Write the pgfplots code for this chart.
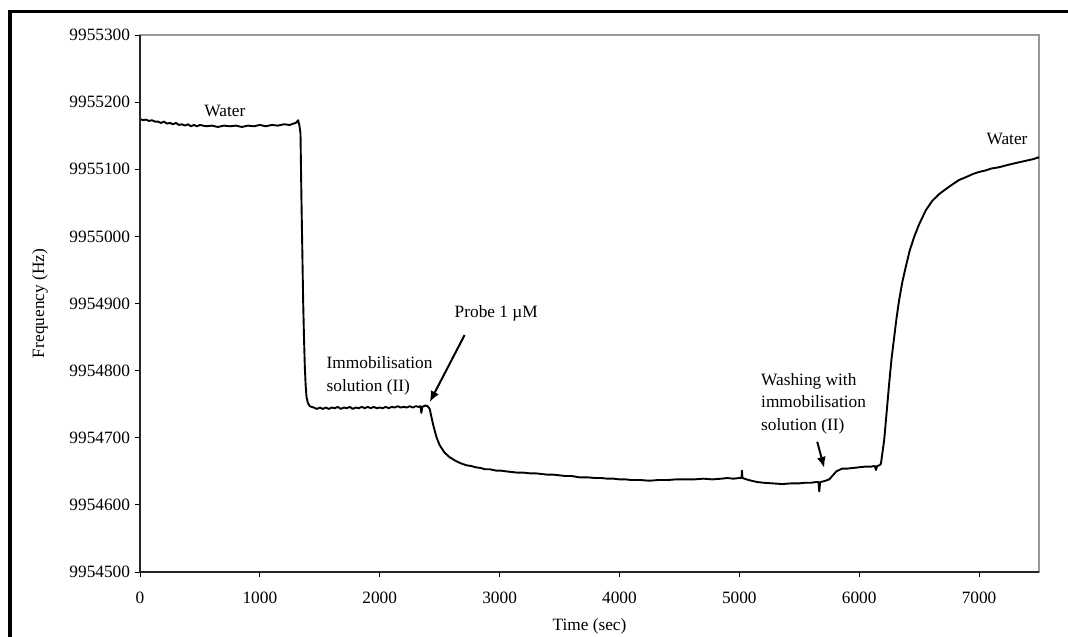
\documentclass[border=0pt]{standalone}
\usepackage{fontspec}
\setmainfont{Liberation Serif}
\usepackage{pgfplots}
\pgfplotsset{compat=1.18}
\usetikzlibrary{arrows.meta}
\begin{document}
\fontsize{17.3}{22.4}\selectfont
\begin{tikzpicture}
\path[use as bounding box] (0,0) rectangle (1068pt,637pt);
\draw[line width=3.3pt] (10pt,0) -- (10pt,625.3pt) -- (1070pt,625.3pt);
\begin{axis}[at={(140pt,65pt)}, anchor=south west, scale only axis,
  width=899pt, height=537pt,
  xmin=0, xmax=7500, ymin=9954500, ymax=9955300,
  xtick={0,1000,2000,3000,4000,5000,6000,7000},
  ytick={9954500,9954600,9954700,9954800,9954900,9955000,9955100,9955200,9955300},
  scaled y ticks=false, scaled x ticks=false,
  /pgf/number format/.cd, fixed, 1000 sep={}, precision=0, assume math mode=true, /pgfplots/.cd,
  tick align=outside, xtick pos=bottom, ytick pos=left,
  major tick length=5pt,
  tick style={black, line width=0.8pt},
  axis line style={draw=black!40, line width=1.2pt},
  ticklabel style={font=\fontsize{17.3}{20}\selectfont},
  xticklabel style={yshift=-9pt},
  yticklabel style={xshift=1pt},
  every axis y label/.style={at={(axis description cs:-0.1112,0.5)}, rotate=90, anchor=center},
  every axis x label/.style={at={(axis description cs:0.5,-0.1019)}, anchor=center},
  xlabel={Time (sec)}, ylabel={Frequency (Hz)},
  clip=true,
  after end axis/.code={
    \draw[black!85, line width=1.2pt] (rel axis cs:0,1) -- (rel axis cs:0,0) -- (rel axis cs:1,0);
  },
]
\addplot[black, line width=1.9pt, line join=round] coordinates {
(0,9955175) (25,9955173) (50,9955174) (75,9955172) (100,9955173) (125,9955171) (150,9955171)
(175,9955169) (200,9955171) (225,9955168) (250,9955169) (275,9955167) (300,9955169)
(325,9955166) (350,9955167) (375,9955165) (400,9955167) (425,9955164) (450,9955166)
(475,9955164) (500,9955166) (550,9955164) (600,9955165) (650,9955163) (700,9955165)
(750,9955164) (800,9955165) (850,9955163) (900,9955165) (950,9955164) (1000,9955166)
(1050,9955164) (1100,9955166) (1150,9955165) (1200,9955167) (1250,9955166) (1280,9955168)
(1300,9955169) (1310,9955171) (1319,9955173) (1330,9955165) (1339,9955153) (1347,9955054)
(1354,9954980) (1361,9954905) (1368,9954850) (1375,9954806) (1382,9954778) (1389,9954761)
(1400,9954752) (1417,9954747) (1450,9954745) (1475,9954743) (1500,9954745) (1525,9954743)
(1550,9954745) (1575,9954743) (1600,9954745) (1625,9954744) (1650,9954746) (1675,9954743)
(1700,9954745) (1725,9954744) (1750,9954746) (1775,9954743) (1800,9954745) (1825,9954744)
(1850,9954746) (1875,9954744) (1900,9954746) (1925,9954744) (1950,9954746) (1975,9954744)
(2000,9954745) (2025,9954744) (2050,9954746) (2075,9954744) (2100,9954746) (2125,9954745)
(2150,9954747) (2175,9954745) (2200,9954746) (2225,9954745) (2250,9954747) (2275,9954745)
(2300,9954747) (2325,9954746) (2340,9954747) (2347,9954737) (2355,9954746) (2380,9954748)
(2400,9954747) (2417,9954743) (2430,9954732) (2445,9954720) (2458,9954711) (2475,9954700)
(2500,9954689) (2540,9954678) (2583,9954671) (2620,9954667) (2650,9954664) (2690,9954661)
(2722,9954659) (2760,9954658) (2800,9954656) (2840,9954655) (2880,9954653) (2920,9954653)
(2972,9954651) (3010,9954651) (3050,9954650) (3100,9954649) (3150,9954648) (3200,9954648)
(3250,9954647) (3300,9954647) (3350,9954646) (3400,9954645) (3450,9954645) (3500,9954644)
(3550,9954643) (3600,9954643) (3667,9954641) (3730,9954641) (3800,9954640) (3850,9954640)
(3900,9954639) (3950,9954639) (4000,9954638) (4050,9954638) (4100,9954637) (4175,9954637)
(4250,9954636) (4325,9954637) (4400,9954637) (4475,9954638) (4550,9954638) (4625,9954638)
(4700,9954639) (4775,9954638) (4850,9954639) (4900,9954640) (4950,9954639) (5000,9954640)
(5018,9954640) (5022,9954651) (5026,9954640) (5060,9954638) (5100,9954636) (5150,9954634)
(5200,9954633) (5280,9954632) (5358,9954631) (5430,9954632) (5500,9954632) (5550,9954633)
(5600,9954633) (5640,9954634) (5660,9954634) (5667,9954620) (5674,9954634) (5700,9954635)
(5720,9954636) (5750,9954638) (5780,9954644) (5810,9954650) (5858,9954654) (5900,9954654)
(5950,9954655) (6000,9954656) (6050,9954657) (6100,9954657) (6130,9954658) (6140,9954652)
(6150,9954658) (6170,9954659) (6181,9954661) (6208,9954696) (6230,9954740) (6250,9954781)
(6270,9954818) (6292,9954850) (6312,9954879) (6333,9954905) (6360,9954932) (6389,9954955)
(6420,9954978) (6458,9954999) (6500,9955018) (6556,9955039) (6610,9955053) (6667,9955063)
(6750,9955074) (6833,9955084) (6900,9955089) (6950,9955093) (7000,9955096) (7050,9955098)
(7100,9955101) (7167,9955103) (7230,9955106) (7300,9955109) (7350,9955111) (7400,9955113)
(7450,9955115) (7500,9955118)
};
\node at (axis cs:708,9955187) {Water};
\node at (axis cs:7233,9955145) {Water};
\node at (axis cs:2972,9954885) {Probe 1 µM};
\node[anchor=west, align=left, inner sep=0pt] at (axis cs:1556,9954792) {Immobilisation\\solution (II)};
\node[anchor=west, align=left, inner sep=0pt] at (axis cs:5181,9954751) {Washing with\\immobilisation\\solution (II)};
\draw[line width=2pt, -{Latex[length=11pt,width=9pt]}] (axis cs:2708,9954853) -- (axis cs:2417,9954753);
\draw[line width=2pt, -{Latex[length=11pt,width=9pt]}] (axis cs:5650,9954694) -- (axis cs:5708,9954655);
\end{axis}
\end{tikzpicture}
\end{document}
